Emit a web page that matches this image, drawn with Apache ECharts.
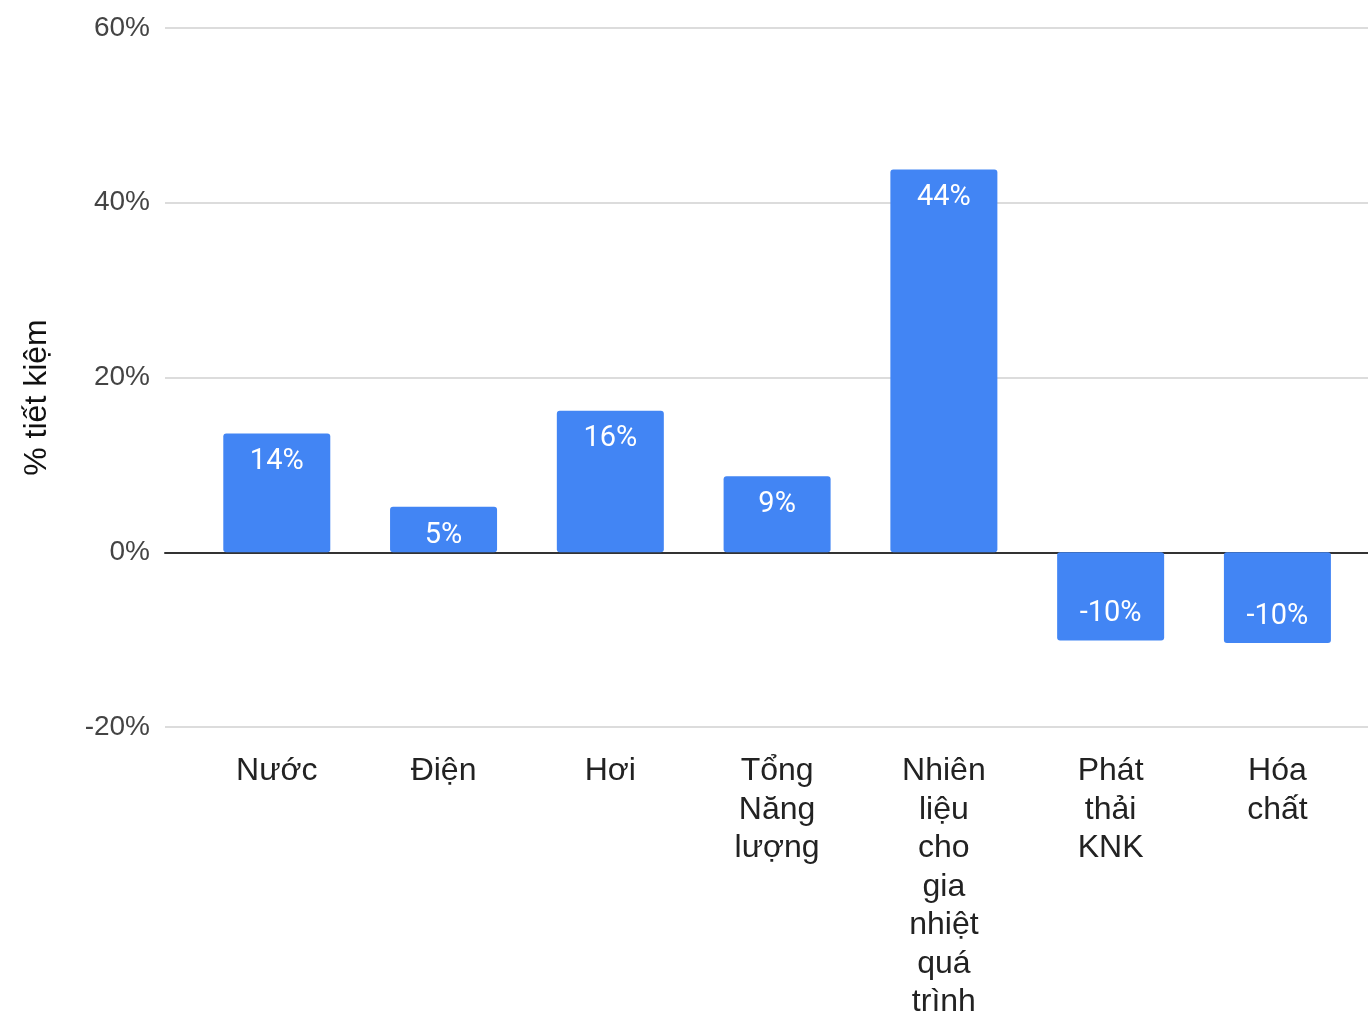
<!DOCTYPE html>
<html>
<head>
<meta charset="utf-8">
<script src="https://cdn.jsdelivr.net/npm/echarts@6/dist/echarts.min.js"></script>
<style>
html,body{margin:0;padding:0;background:#fff;}
#chart{width:1368px;height:1013px;}
</style>
</head>
<body>
<div id="chart"></div>
<script>
var categories = ['Nước', 'Điện', 'Hơi', 'Tổng Năng lượng', 'Nhiên liệu cho gia nhiệt quá trình', 'Phát thải KNK', 'Hóa chất'];
var savings = [13.6, 5.2, 16.2, 8.7, 43.8, -10.1, -10.4];
var yMin = -20, yMax = 60, yStep = 20;
var yTitle = '% tiết kiệm';

var barData = savings.map(function (v) {
  return {
    value: v,
    label: v >= 0 ? { position: 'insideTop', distance: 14 } : { position: 'insideBottom', distance: 12 }
  };
});

var chart = echarts.init(document.getElementById('chart'));
chart.setOption({
  animation: false,
  backgroundColor: '#ffffff',
  grid: [
    { left: 165, right: 0, top: 28, bottom: 286, outerBoundsMode: 'none', containLabel: false },
    { left: 193.4, right: 7.2, top: 28, bottom: 286, outerBoundsMode: 'none', containLabel: false }
  ],
  xAxis: [
    {
      gridIndex: 0, type: 'value', min: 0, max: 1,
      axisLine: { show: true, onZero: true, lineStyle: { color: '#333333', width: 2 } },
      axisTick: { show: false }, axisLabel: { show: false }, splitLine: { show: false }
    },
    {
      gridIndex: 1, type: 'category', data: categories,
      axisLine: { show: false, onZero: false }, axisTick: { show: false },
      axisLabel: {
        interval: 0, margin: 25,
        fontFamily: 'Liberation Sans, Arial, sans-serif', fontSize: 32, lineHeight: 38.5, color: '#222222',
        formatter: function (s) { return s.split(' ').join('\n'); }
      }
    }
  ],
  yAxis: [
    {
      gridIndex: 0, type: 'value', min: yMin, max: yMax, interval: yStep,
      name: yTitle, nameLocation: 'middle', nameRotate: 90, nameGap: 112,
      nameTextStyle: { fontFamily: 'Liberation Sans, Arial, sans-serif', fontSize: 32, color: '#111111', padding: [0, 40, 0, 0] },
      axisLine: { show: false }, axisTick: { show: false },
      axisLabel: { margin: 15, formatter: '{value}%', fontFamily: 'Liberation Sans, Arial, sans-serif', fontSize: 28, color: '#444444' },
      splitLine: { show: true, lineStyle: { color: '#d0d0d0', width: 1.5 } }
    },
    {
      gridIndex: 1, type: 'value', min: yMin, max: yMax, interval: yStep,
      show: false, splitLine: { show: false }
    }
  ],
  series: [
    {
      type: 'bar', xAxisIndex: 1, yAxisIndex: 1,
      data: barData,
      barWidth: 107,
      itemStyle: { color: '#4285F4', borderRadius: 3 },
      label: {
        show: true, color: '#ffffff', fontFamily: 'Roboto, sans-serif', fontSize: 29,
        formatter: function (p) { return Math.round(p.value) + '%'; }
      }
    }
  ]
});
</script>
</body>
</html>
